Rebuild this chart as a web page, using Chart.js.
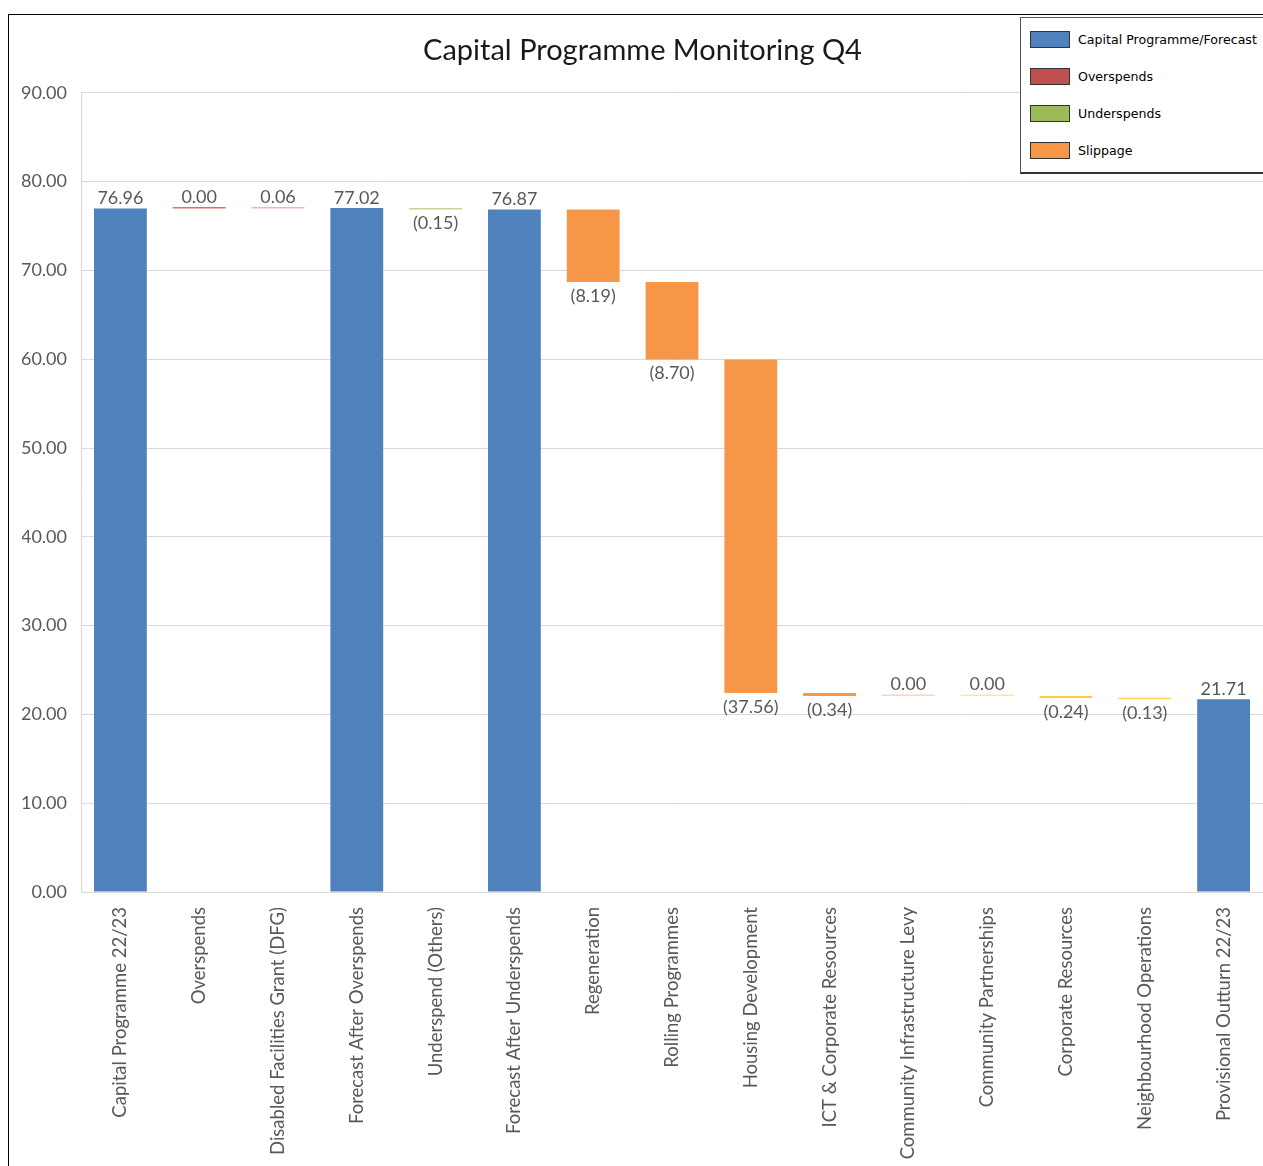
<!DOCTYPE html>
<html>
<head>
<meta charset="utf-8">
<script src="https://cdn.jsdelivr.net/npm/chart.js@4.4.0/dist/chart.umd.min.js"></script>
<style>
  html, body { margin: 0; padding: 0; background: #fff; }
  #wrap { position: relative; width: 1263px; height: 1166px; overflow: hidden; }
  #c { position: absolute; left: 0; top: 0; }
  #frame { position: absolute; left: 8px; top: 14px; width: 1400px; height: 1300px;
           border-left: 1.5px solid #000; border-top: 1.5px solid #000; pointer-events: none; }
  #legend { position: absolute; left: 1020px; top: 17px; width: 300px; height: 154px;
            border: 1px solid #555; border-bottom: 2px solid #333; background: #fff;
            font-family: "DejaVu Sans", sans-serif; font-size: 12.6px; color: #000; }
  .item { position: absolute; left: 9px; height: 18px; display: flex; align-items: center; }
  .sw { width: 40px; height: 17px; border: 1px solid #333; margin-right: 8px; box-sizing: border-box; }
</style>
</head>
<body>
<div id="wrap">
  <canvas id="c" width="1263" height="1166"></canvas>
  <div id="frame"></div>
  <div id="legend"></div>
</div>
<script>
// ---- data ----
const categories = [
  "Capital Programme 22/23", "Overspends", "Disabled Facilities Grant (DFG)",
  "Forecast After Overspends", "Underspend (Others)", "Forecast After Underspends",
  "Regeneration", "Rolling Programmes", "Housing Development",
  "ICT & Corporate Resources", "Community Infrastructure Levy", "Community Partnerships",
  "Corporate Resources", "Neighbourhood Operations", "Provisional Outturn 22/23"
];
// value of each step (totals are absolute, other entries are changes)
const values = [76.96, 0.00, 0.06, 77.02, -0.15, 76.87, -8.19, -8.70, -37.56, -0.34, 0.00, 0.00, -0.24, -0.13, 21.71];
const kinds  = ["total", "over", "over", "total", "under", "total", "slip", "slip", "slip", "slip", "slip", "slip", "slip", "slip", "total"];
const barColors = ["#4F81BD", "#E46C6C", "#F4B3B3", "#4F81BD", "#C3D69B", "#4F81BD",
                   "#F79646", "#F79646", "#F79646", "#F79646", "#FCD5B4", "#FFE699",
                   "#FFCC33", "#FFD54F", "#4F81BD"];
const yTicks = [0, 10, 20, 30, 40, 50, 60, 70, 80, 90];
const legendItems = ["Capital Programme/Forecast", "Overspends", "Underspends", "Slippage"];
const legendColors = ["#4F81BD", "#C0504D", "#9BBB59", "#F79646"];

// ---- waterfall ranges ----
let running = 0;
const ranges = values.map((v, i) => {
  if (kinds[i] === "total") { running = v; return [0, v]; }
  const start = running; running = +(running + v).toFixed(2); return [start, running];
});
const fmt = v => v < 0 ? "(" + Math.abs(v).toFixed(2) + ")" : v.toFixed(2);

// ---- legend ----
const lg = document.getElementById('legend');
legendItems.forEach((t, i) => {
  const d = document.createElement('div');
  d.className = 'item';
  d.style.top = (12 + i * 37) + 'px';
  d.innerHTML = '<span class="sw" style="background:' + legendColors[i] + '"></span><span>' + t + '</span>';
  lg.appendChild(d);
});

// ---- data label plugin ----
const labelPlugin = {
  id: 'wfLabels',
  afterDatasetsDraw(chart) {
    const ctx = chart.ctx;
    const meta = chart.getDatasetMeta(0);
    ctx.save();
    ctx.font = '18px Lato, "Open Sans", sans-serif';
    ctx.fillStyle = '#595959';
    ctx.textAlign = 'center';
    meta.data.forEach((el, i) => {
      const v = values[i];
      const top = Math.min(el.y, el.base), bot = Math.max(el.y, el.base);
      if (v < 0) {
        ctx.textBaseline = 'top';
        ctx.fillText(fmt(v), el.x, bot + 5);
      } else {
        ctx.textBaseline = 'bottom';
        ctx.fillText(fmt(v), el.x, top - 1);
      }
    });
    ctx.restore();
  }
};

new Chart(document.getElementById('c'), {
  type: 'bar',
  data: {
    labels: categories,
    datasets: [{
      data: ranges,
      backgroundColor: barColors,
      borderWidth: 0,
      barPercentage: 0.67,
      categoryPercentage: 1,
      minBarLength: 1.5
    }]
  },
  options: {
    responsive: false,
    animation: false,
    layout: { padding: { left: 22, right: 0, top: 0, bottom: 0 } },
    plugins: {
      legend: { display: false },
      tooltip: { enabled: false },
      title: {
        display: true,
        text: 'Capital Programme Monitoring Q4',
        color: '#1a1a1a',
        font: { family: 'Lato, "Open Sans", sans-serif', size: 29, weight: 'normal' },
        padding: { top: 33, bottom: 25 }
      }
    },
    scales: {
      x: {
        grid: { display: false, drawTicks: false },
        border: { display: true, color: '#d9d9d9', width: 1 },
        ticks: {
          autoSkip: false, maxRotation: 90, minRotation: 90, padding: 15,
          color: '#595959', font: { family: 'Lato, "Open Sans", sans-serif', size: 18.5 }
        },
        afterFit: s => { s.height = 274; }
      },
      y: {
        min: 0, max: 90,
        afterBuildTicks: s => { s.ticks = yTicks.map(v => ({ value: v })); },
        grid: { color: '#d9d9d9', lineWidth: 1, drawTicks: false },
        border: { display: true, color: '#d9d9d9', width: 1 },
        ticks: {
          padding: 14, color: '#595959',
          font: { family: 'Lato, "Open Sans", sans-serif', size: 18 },
          callback: v => Number(v).toFixed(2)
        },
        afterFit: s => { s.width = 59; }
      }
    }
  },
  plugins: [labelPlugin]
});
</script>
</body>
</html>
